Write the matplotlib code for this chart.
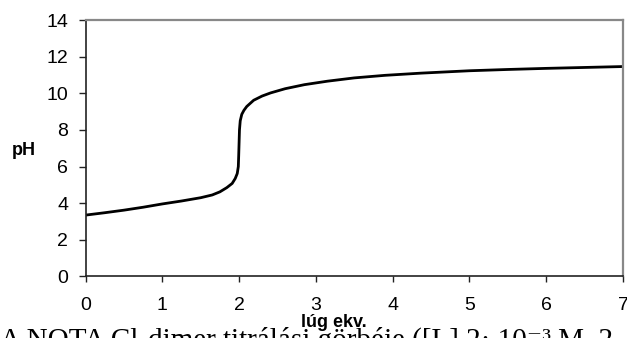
import matplotlib.pyplot as plt

# titration curve: equivalents of base vs pH
lug_ekv = [0.0, 0.25, 0.5, 0.75, 1.0, 1.25, 1.5, 1.65, 1.75, 1.84, 1.91, 1.95,
           1.976, 1.99, 1.995, 2.0, 2.005, 2.015, 2.035, 2.063, 2.1, 2.19, 2.3,
           2.41, 2.6, 2.85, 3.15, 3.5, 3.9, 4.37, 5.0, 5.5, 6.0, 6.5, 7.0]
ph = [3.35, 3.48, 3.62, 3.78, 3.96, 4.12, 4.3, 4.45, 4.62, 4.85, 5.08, 5.35,
      5.62, 6.0, 6.6, 7.3, 8.0, 8.5, 8.85, 9.07, 9.28, 9.62, 9.85,
      10.02, 10.25, 10.47, 10.66, 10.84, 10.98, 11.1, 11.23, 11.3, 11.36, 11.41, 11.46]

x_ticks = [0, 1, 2, 3, 4, 5, 6, 7]
y_ticks = [0, 2, 4, 6, 8, 10, 12, 14]

caption = "A NOTA Cl-dimer titrálási görbéje ([L] 2· 10⁻³ M, 2"

fig = plt.figure(figsize=(6.27, 3.38), dpi=100)
fig.patch.set_facecolor('white')

# caption of the document, cut at the bottom of the crop
fig.text(0.0, -0.028, caption, family=['Liberation Serif', 'DejaVu Serif'],
         fontsize=21, ha='left', va='baseline', zorder=0)

ax = fig.add_axes([0.1364, 0.182, 0.8572, 0.7588])
ax.plot(lug_ekv, ph, color='black', lw=2.0, solid_capstyle='round')

ax.set_xlim(0, 7)
ax.set_ylim(0, 14)
ax.set_xticks(x_ticks)
ax.set_yticks(y_ticks)
for lab in ax.get_xticklabels() + ax.get_yticklabels():
    lab.set_family('Liberation Sans')
    lab.set_fontsize(14)
ax.tick_params(axis='y', direction='out', length=5, width=1, color='#222222', pad=7.5)
ax.tick_params(axis='x', direction='out', length=4.5, width=1, color='#222222', pad=10)

for side in ['top', 'right']:
    ax.spines[side].set_color('#888888')
    ax.spines[side].set_linewidth(1.6)
for side in ['left', 'bottom']:
    ax.spines[side].set_color('#222222')
    ax.spines[side].set_linewidth(1.2)

ax.set_ylabel('pH', family='Liberation Sans', fontsize=13, fontweight='bold',
              rotation=0, labelpad=0, ha='center', va='center')
ax.yaxis.set_label_coords(-0.115, 0.49)
xl = ax.set_xlabel('lúg ekv.', family='Liberation Sans', fontsize=13,
                   fontweight='bold', labelpad=0, va='top')
xl.set_bbox(dict(facecolor='white', edgecolor='none', pad=0.3))
ax.xaxis.set_label_coords(0.462, -0.145)

fig.savefig('out.png', dpi=100)
